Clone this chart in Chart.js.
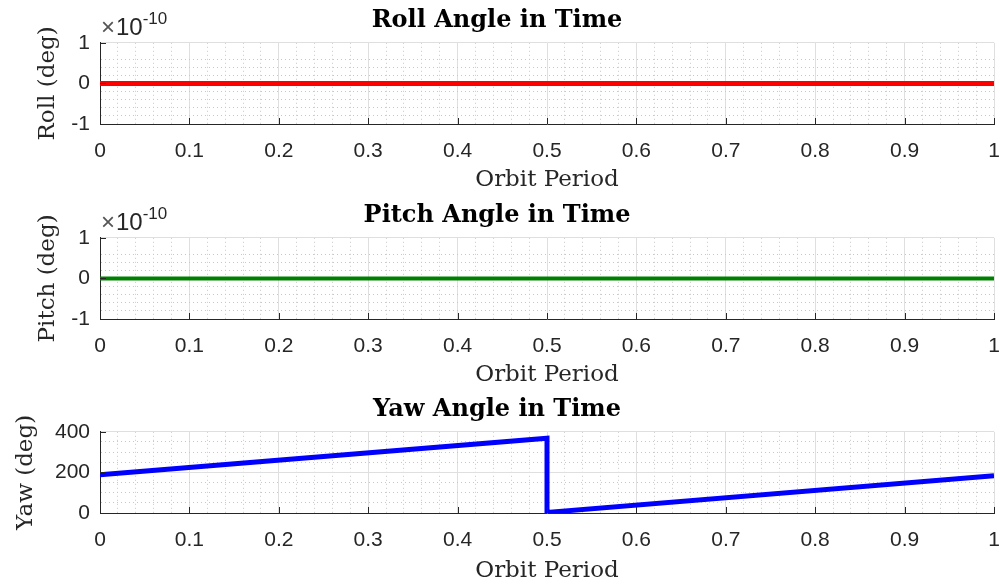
<!DOCTYPE html>
<html>
<head>
<meta charset="utf-8">
<script src="https://cdn.jsdelivr.net/npm/chart.js@4.4.0/dist/chart.umd.min.js"></script>
<style>
body { margin: 0; background: #fff; }
.panel { position: absolute; left: 0; width: 1000px; }
</style>
</head>
<body>
<div class="panel" style="top:0px"><canvas id="roll" width="1000" height="195"></canvas></div>
<div class="panel" style="top:195px"><canvas id="pitch" width="1000" height="195"></canvas></div>
<div class="panel" style="top:389px"><canvas id="yaw" width="1000" height="197"></canvas></div>
<script>
// values
const orbitTime = [0, 1];
const rollValues = [0, 0];
const pitchValues = [0, 0];
const yawTime = [0, 0.5, 0.5, 1];
const yawValues = [188, 368, 3, 183];

const titles = ['Roll Angle in Time', 'Pitch Angle in Time', 'Yaw Angle in Time'];
const yLabels = ['Roll (deg)', 'Pitch (deg)', 'Yaw (deg)'];
const xLabel = 'Orbit Period';

const INK = '#262626';
const MAJOR_GRID = '#dfdfdf';
const MINOR_GRID = '#c8c8c8';
const SERIF = "'DejaVu Serif', serif";
const SANS = "'Liberation Sans', Arial, sans-serif";

Chart.defaults.font.family = SANS;
Chart.defaults.color = INK;

// is v sitting on a multiple of step (float safe)
const onStep = (v, step) => {
	const n = v / step;
	return Math.abs(n - Math.round(n)) < 1e-6;
};

// short tick marks inside the box, like matlab draws them
const innerTicks = {
	id: 'innerTicks',
	afterDraw(chart) {
		const ctx = chart.ctx;
		const area = chart.chartArea;
		const xs = chart.scales.x;
		const ys = chart.scales.y;
		ctx.save();
		ctx.strokeStyle = INK;
		ctx.lineWidth = 1;
		ctx.beginPath();
		xs.ticks.forEach((t) => {
			if (!onStep(t.value, xs.options.majorStep)) return;
			const px = Math.round(xs.getPixelForValue(t.value)) + 0.5;
			ctx.moveTo(px, area.bottom);
			ctx.lineTo(px, area.bottom - 6);
		});
		ys.ticks.forEach((t) => {
			if (!onStep(t.value, ys.options.majorStep)) return;
			const py = Math.round(ys.getPixelForValue(t.value)) + 0.5;
			ctx.moveTo(area.left, py);
			ctx.lineTo(area.left + 6, py);
		});
		ctx.stroke();
		ctx.restore();
	},
};

// the x10^-10 label above the y axis
const exponentLabel = {
	id: 'exponentLabel',
	afterDraw(chart, args, opts) {
		if (!opts.show) return;
		const ctx = chart.ctx;
		const left = chart.chartArea.left;
		const top = chart.chartArea.top;
		ctx.save();
		ctx.textBaseline = 'alphabetic';
		ctx.font = '24px ' + SANS;
		ctx.fillStyle = '#555';
		ctx.fillText('\u00d7', left + 1, top - 8);
		let w = ctx.measureText('\u00d7').width + 1;
		ctx.fillStyle = INK;
		ctx.fillText('10', left + 1 + w, top - 8);
		w += ctx.measureText('10').width;
		ctx.font = '17px ' + SANS;
		ctx.fillText('-10', left + 1 + w, top - 19);
		ctx.restore();
	},
};

function makePanel(id, n, data, color, lineWidth, yOpts) {
	const xMajor = (c) => c.tick !== undefined && onStep(c.tick.value, 0.1);
	const yMajor = (c) => c.tick !== undefined && onStep(c.tick.value, yOpts.majorStep);
	return new Chart(document.getElementById(id), {
		type: 'line',
		data: {
			datasets: [{
				data: data,
				borderColor: color,
				borderWidth: lineWidth,
				pointRadius: 0,
				tension: 0,
			}],
		},
		plugins: [innerTicks, exponentLabel],
		options: {
			responsive: false,
			animation: false,
			devicePixelRatio: 1,
			layout: { padding: { left: 0, right: 6, top: 0, bottom: 0 } },
			plugins: {
				legend: { display: false },
				tooltip: { enabled: false },
				title: {
					display: true,
					text: titles[n],
					color: '#000',
					font: { family: SERIF, size: 24, weight: 'bold', lineHeight: 1.2 },
					padding: { top: 6, bottom: 8 },
				},
				exponentLabel: { show: yOpts.exponent },
			},
			scales: {
				x: {
					type: 'linear',
					min: 0,
					max: 1,
					majorStep: 0.1,
					ticks: {
						count: 51,
						autoSkip: false,
						maxRotation: 0,
						padding: 15,
						font: { size: 21 },
						color: INK,
						callback: (v) => (onStep(v, 0.1) ? String(+v.toFixed(2)) : ''),
					},
					grid: {
						drawTicks: false,
						color: (c) => (xMajor(c) ? MAJOR_GRID : MINOR_GRID),
					},
					border: {
						color: INK,
						dash: (c) => (c.tick === undefined || xMajor(c) ? [] : [1, 3]),
					},
					title: {
						display: true,
						text: xLabel,
						color: INK,
						font: { family: SERIF, size: 23, lineHeight: 1.2 },
						padding: { top: 0, bottom: 1 },
					},
					afterFit: (s) => {
						s.height = s.chart.height - 124;
						s.paddingLeft = 0;
						s.paddingRight = 0;
					},
				},
				y: {
					min: yOpts.min,
					max: yOpts.max,
					majorStep: yOpts.majorStep,
					ticks: {
						count: yOpts.count,
						autoSkip: false,
						padding: 10,
						font: { size: 21 },
						color: INK,
						callback: (v) => (onStep(v, yOpts.majorStep) ? yOpts.label(v) : ''),
					},
					grid: {
						drawTicks: false,
						color: (c) => (yMajor(c) ? MAJOR_GRID : MINOR_GRID),
					},
					border: {
						color: INK,
						dash: (c) => (c.tick === undefined || yMajor(c) ? [] : [1, 3]),
					},
					title: {
						display: true,
						text: yLabels[n],
						color: INK,
						font: { family: SERIF, size: 23, lineHeight: 1.2 },
						padding: { top: yOpts.titleGap, bottom: 0 },
					},
					afterFit: (s) => {
						s.width = 100;
						s.paddingTop = 0;
						s.paddingBottom = 0;
					},
				},
			},
		},
	});
}

const toPoints = (xs, ys) => xs.map((x, i) => ({ x: x, y: ys[i] }));
const smallAxis = {
	min: -1e-10, max: 1e-10, count: 11, majorStep: 1e-10, exponent: true, titleGap: 34,
	label: (v) => String(Math.round(v / 1e-10)),
};

makePanel('roll', 0, toPoints(orbitTime, rollValues), '#ff0000', 5, smallAxis);
makePanel('pitch', 1, toPoints(orbitTime, pitchValues), '#008000', 4, smallAxis);
makePanel('yaw', 2, toPoints(yawTime, yawValues), '#0000ff', 5, {
	min: 0, max: 400, count: 9, majorStep: 200, exponent: false, titleGap: 12,
	label: (v) => String(v),
});
</script>
</body>
</html>
